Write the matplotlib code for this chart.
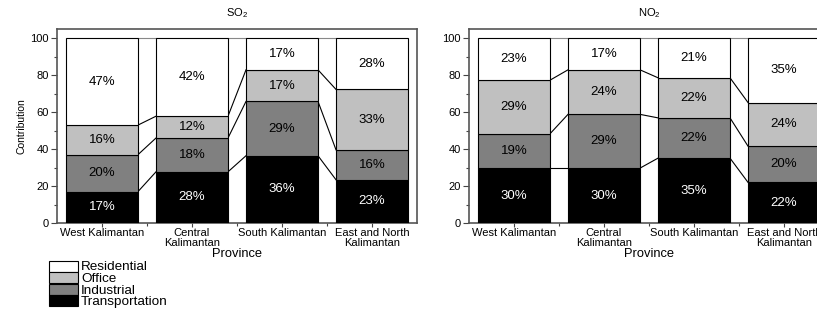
import matplotlib
matplotlib.use("Agg")
import matplotlib.pyplot as plt
from matplotlib.patches import Rectangle
import numpy as np

plt.rcParams['font.family'] = ['Liberation Sans', 'DejaVu Sans']
plt.rcParams['mathtext.fontset'] = 'custom'
plt.rcParams['mathtext.rm'] = 'Liberation Sans'
plt.rcParams['mathtext.it'] = 'Liberation Sans'

provinces = ["West Kalimantan", "Central\nKalimantan", "South Kalimantan", "East and North\nKalimantan"]
categories = ["Transportation", "Industrial", "Office", "Residential"]
colors = ["#000000", "#808080", "#c0c0c0", "#ffffff"]
text_colors = ["white", "black", "black", "black"]

so2_transportation = [17.0, 27.7, 36.4, 23.4]
so2_industrial = [20.0, 18.3, 29.4, 16.2]
so2_office = [16.0, 11.8, 17.1, 32.7]
so2_residential = [47.0, 42.2, 17.1, 27.7]

no2_transportation = [29.7, 29.7, 35.1, 22.0]
no2_industrial = [18.6, 29.1, 21.8, 19.6]
no2_office = [29.0, 24.1, 21.7, 23.6]
no2_residential = [22.7, 17.1, 21.4, 34.8]

W, H = 817, 309
fig = plt.figure(figsize=(W / 100, H / 100), dpi=100)


def px_axes(x0, y0, x1, y1):
    return fig.add_axes([x0 / W, 1 - y1 / H, (x1 - x0) / W, (y1 - y0) / H])


def draw_panel(ax, series, title, ylabel=None):
    x = np.arange(1, len(provinces) + 1)
    width = 0.8
    bottom = np.zeros(len(x))
    levels = []
    for vals, col, tc in zip(series, colors, text_colors):
        vals = np.array(vals)
        ax.bar(x, vals, width=width, bottom=bottom, color=col, edgecolor='black',
               linewidth=0.8, zorder=3)
        for xi, b, v in zip(x, bottom, vals):
            ax.text(xi, b + v / 2, f"{v:.0f}%", ha='center', va='center',
                    color=tc, fontsize=9.5, zorder=4)
        bottom = bottom + vals
        levels.append(bottom.copy())
    # connecting lines
    for k, lev in enumerate(levels):
        lc = '#888888' if k == len(levels) - 1 else 'black'
        for i in range(len(x) - 1):
            ax.plot([x[i] + width / 2, x[i + 1] - width / 2], [lev[i], lev[i + 1]],
                    color=lc, linewidth=0.8, zorder=2)
    ax.set_xlim(0.5, 4.5)
    ax.set_ylim(0, 105)
    ax.set_xticks(x)
    ax.set_xticklabels(provinces, fontsize=8, linespacing=1.0)
    ax.set_xticks([1.5, 2.5, 3.5], minor=True)
    ax.set_yticks(np.arange(0, 101, 20))
    ax.set_yticks(np.arange(10, 100, 20), minor=True)
    ax.tick_params(axis='both', which='major', direction='out', length=4, width=0.8,
                   labelsize=8, pad=2, color='#444444')
    ax.tick_params(axis='both', which='minor', direction='out', length=2.5, width=0.8,
                   color='#444444')
    ax.tick_params(axis='x', which='major', length=3, pad=0.5)
    for s in ax.spines.values():
        s.set_color('#555555')
        s.set_linewidth(1.2)
    ax.set_xlabel("Province", fontsize=9.3, labelpad=0)
    if ylabel:
        ax.set_ylabel(ylabel, fontsize=7.5, labelpad=2.5)
    ax.set_title(title, fontsize=8, pad=9)


ax1 = px_axes(57, 29, 417, 223)
draw_panel(ax1, [so2_transportation, so2_industrial, so2_office, so2_residential],
           r"SO$_2$", ylabel="Contribution")
ax2 = px_axes(469, 29, 829, 223)
draw_panel(ax2, [no2_transportation, no2_industrial, no2_office, no2_residential],
           r"NO$_2$")

# legend (manual, figure coordinates)
legend_rows = list(zip(categories[::-1], colors[::-1]))
row_top = 260.5
for name, col in legend_rows:
    fig.patches.append(Rectangle((49 / W, 1 - (row_top + 11) / H), 29 / W, 11 / H,
                                 transform=fig.transFigure, facecolor=col,
                                 edgecolor='black', linewidth=0.8))
    fig.text(81 / W, 1 - (row_top + 5.5) / H, name, fontsize=9.7,
             va='center_baseline', ha='left')
    row_top += 11.5

fig.savefig("out.png", dpi=100)
